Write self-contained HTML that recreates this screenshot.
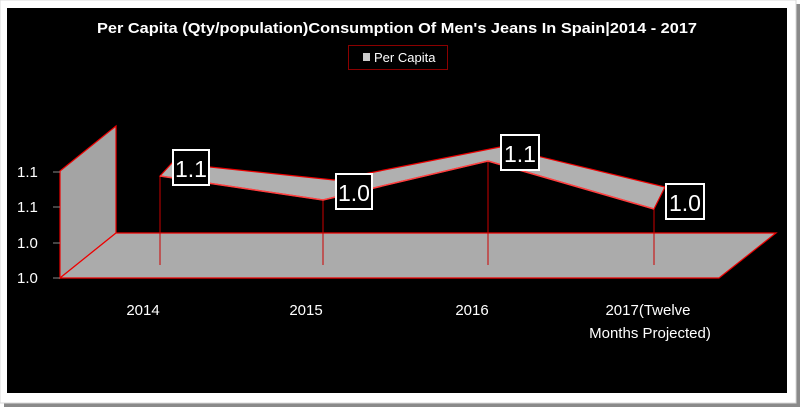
<!DOCTYPE html>
<html><head><style>
body{margin:0;background:#fff;width:800px;height:407px;overflow:hidden}
svg{display:block}
text{font-family:"Liberation Sans",sans-serif}
</style></head><body>
<svg width="800" height="407" viewBox="0 0 800 407">
<rect x="4" y="403" width="796" height="4" fill="#8a8a8a"/>
<rect x="796" y="4" width="4" height="403" fill="#8a8a8a"/>
<rect x="0" y="0" width="796" height="403" fill="#fff" stroke="#d8d8d8"/>
<rect x="7" y="8" width="780" height="385" fill="#000"/>
<text x="397" y="33" fill="#fff" font-size="15" font-weight="bold" text-anchor="middle" textLength="600" lengthAdjust="spacingAndGlyphs">Per Capita (Qty/population)Consumption Of Men's Jeans In Spain|2014 - 2017</text>
<rect x="348.5" y="45.5" width="99" height="24" fill="#000" stroke="#8b0000"/>
<rect x="363" y="53" width="7" height="8" fill="#ccc"/>
<text x="374" y="62" fill="#fff" font-size="13">Per Capita</text>
<polygon points="60,171 116,126 116,233 60,278" fill="#a4a4a4" stroke="#e00" stroke-width="1.2"/>
<polygon points="60,278 116,233 776,233 719,278" fill="#ababab" stroke="#e00" stroke-width="1.2"/>
<g fill="#fff" font-size="15">
<text x="17" y="177">1.1</text><text x="17" y="212">1.1</text>
<text x="17" y="248">1.0</text><text x="17" y="283">1.0</text>
</g>
<g stroke="#888"><line x1="53" y1="172" x2="60" y2="172"/><line x1="53" y1="207" x2="60" y2="207"/><line x1="53" y1="243" x2="60" y2="243"/><line x1="53" y1="278" x2="60" y2="278"/></g>
<g stroke="#c00" stroke-width="1"><line x1="160" y1="176" x2="160" y2="265"/><line x1="323" y1="200" x2="323" y2="265"/><line x1="488" y1="161" x2="488" y2="265"/><line x1="654" y1="209" x2="654" y2="265"/></g>
<polygon points="160,176 172,163 334,180 500,147 665,187 654,209 488,161 323,200" fill="#b0b0b0" stroke="#e00" stroke-width="1.2"/>
<polyline points="160,176 323,200 488,161 654,209" fill="none" stroke="#ff4040" stroke-width="1.5"/>
<g font-size="23" fill="#fff">
<rect x="173" y="150" width="36" height="35" fill="#000" stroke="#fff" stroke-width="2"/><text x="175" y="177">1.1</text>
<rect x="336" y="174" width="36" height="35" fill="#000" stroke="#fff" stroke-width="2"/><text x="338" y="201">1.0</text>
<rect x="501" y="135" width="38" height="35" fill="#000" stroke="#fff" stroke-width="2"/><text x="504" y="162">1.1</text>
<rect x="666" y="184" width="38" height="35" fill="#000" stroke="#fff" stroke-width="2"/><text x="669" y="211">1.0</text>
</g>
<g fill="#fff" font-size="15" text-anchor="middle">
<text x="143" y="315">2014</text><text x="306" y="315">2015</text><text x="472" y="315">2016</text>
<text x="648" y="315">2017(Twelve</text><text x="650" y="338">Months Projected)</text>
</g>
</svg>
</body></html>
